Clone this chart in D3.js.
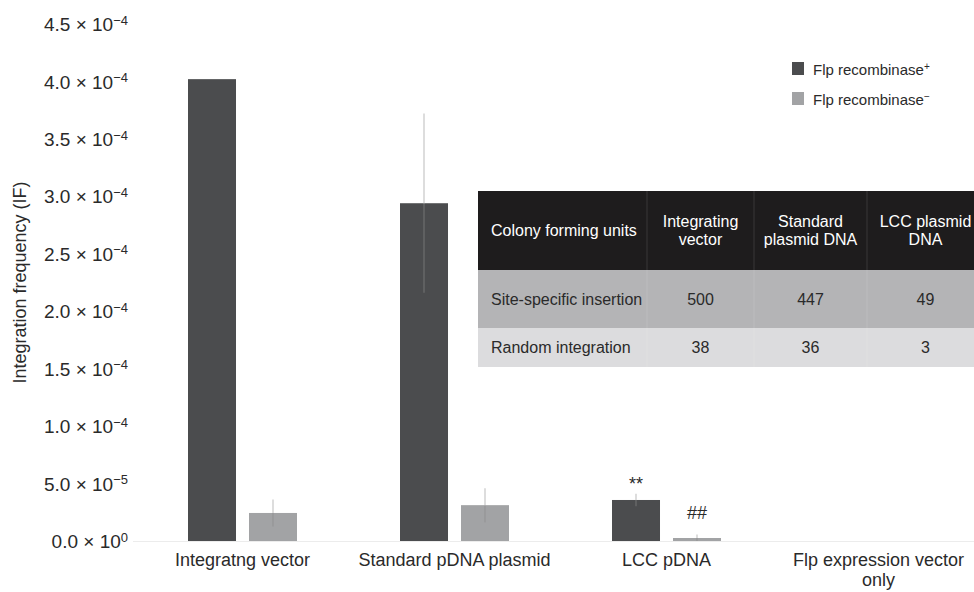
<!DOCTYPE html>
<html>
<head>
<meta charset="utf-8">
<title>Integration frequency</title>
<style>
body { margin: 0; background: #fff; }
svg { display: block; font-family: "Liberation Sans", Arial, Helvetica, sans-serif; }
</style>
<script src="https://cdn.jsdelivr.net/npm/d3@7"></script>
</head>
<body>
<div id="chart"></div>
<script>
// chart values
var categories = ["Integratng vector", "Standard pDNA plasmid", "LCC pDNA", "Flp expression vector only"];
var series = ["plus", "minus"];
var plusValues = [4.02e-4, 2.94e-4, 3.57e-5, 0];
var plusErrors = [0, 0.78e-4, 0.55e-5, 0];
var minusValues = [2.44e-5, 3.12e-5, 2.6e-6, 0];
var minusErrors = [1.18e-5, 1.48e-5, 3.0e-6, 0];
var marks = [{cat: "LCC pDNA", s: "plus", text: "**"}, {cat: "LCC pDNA", s: "minus", text: "##"}];

var tickValues = [0, 5e-5, 1e-4, 1.5e-4, 2e-4, 2.5e-4, 3e-4, 3.5e-4, 4e-4, 4.5e-4];
var tickMantissa = ["0.0", "5.0", "1.0", "1.5", "2.0", "2.5", "3.0", "3.5", "4.0", "4.5"];
var tickExponent = ["0", "\u22125", "\u22124", "\u22124", "\u22124", "\u22124", "\u22124", "\u22124", "\u22124", "\u22124"];

var tableHead = ["Colony forming units", "Integrating\nvector", "Standard\nplasmid DNA", "LCC plasmid\nDNA"];
var tableRows = [
	["Site-specific insertion", "500", "447", "49"],
	["Random integration", "38", "36", "3"]
];

var colors = {plus: "#4b4c4e", minus: "#a2a3a5"};

var width = 974, height = 592;
var svg = d3.select("#chart").append("svg").attr("width", width).attr("height", height);

var y = d3.scaleLinear().domain([0, 4.5e-4]).range([541, 24]);
var x = d3.scaleBand().domain(categories).range([136.5, 984.5]).padding(0);
var xs = d3.scaleBand().domain(series).range([0, 109]).paddingInner(0.213).paddingOuter(0);
var off = (x.bandwidth() - 109) / 2;

// baseline
svg.append("line")
	.attr("x1", 133).attr("x2", width)
	.attr("y1", y(0) + 0.5).attr("y2", y(0) + 0.5)
	.attr("stroke", "#ececec").attr("stroke-width", 1);

// y axis (labels only)
var yAxis = svg.append("g")
	.attr("transform", "translate(128,0)")
	.call(d3.axisLeft(y).tickValues(tickValues).tickSize(0).tickPadding(0).tickFormat(function () { return ""; }));
yAxis.select(".domain").remove();
yAxis.selectAll(".tick text").each(function (d, i) {
	var t = d3.select(this)
		.attr("text-anchor", "end")
		.attr("dy", "0.35em")
		.attr("fill", "#2a2a2a")
		.style("font-size", "19px");
	t.append("tspan").text(tickMantissa[i] + " \u00d7 10");
	t.append("tspan").attr("dy", "-0.5em").style("font-size", "13px").text(tickExponent[i]);
});

svg.append("text")
	.attr("transform", "translate(26," + ((y(0) + y(4.5e-4)) / 2) + ") rotate(-90)")
	.attr("text-anchor", "middle")
	.attr("fill", "#2a2a2a")
	.style("font-size", "18px")
	.text("Integration frequency (IF)");

// bars
var rows = categories.map(function (c, i) {
	return [
		{cat: c, s: "plus", v: plusValues[i], e: plusErrors[i]},
		{cat: c, s: "minus", v: minusValues[i], e: minusErrors[i]}
	];
});

var groups = svg.selectAll("g.group")
	.data(rows)
	.enter().append("g")
		.attr("class", "group")
		.attr("transform", function (d) { return "translate(" + (x(d[0].cat) + off) + ",0)"; });

groups.selectAll("rect")
	.data(function (d) { return d.filter(function (b) { return b.v > 0; }); })
	.enter().append("rect")
		.attr("x", function (d) { return xs(d.s); })
		.attr("width", xs.bandwidth())
		.attr("y", function (d) { return y(d.v); })
		.attr("height", function (d) { return y(0) - y(d.v); })
		.attr("fill", function (d) { return colors[d.s]; });

var errs = groups.selectAll("g.err")
	.data(function (d) { return d.filter(function (b) { return b.e > 0; }); })
	.enter().append("g").attr("class", "err");
errs.append("line")
	.attr("x1", function (d) { return xs(d.s) + xs.bandwidth() / 2; })
	.attr("x2", function (d) { return xs(d.s) + xs.bandwidth() / 2; })
	.attr("y1", function (d) { return y(d.v); })
	.attr("y2", function (d) { return y(d.v + d.e); })
	.attr("stroke", "#d2d2d2").attr("stroke-width", 1.5);
errs.append("line")
	.attr("x1", function (d) { return xs(d.s) + xs.bandwidth() / 2; })
	.attr("x2", function (d) { return xs(d.s) + xs.bandwidth() / 2; })
	.attr("y1", function (d) { return y(d.v); })
	.attr("y2", function (d) { return y(Math.max(0, d.v - d.e)); })
	.attr("stroke", "#8a8a8a").attr("stroke-opacity", 0.45).attr("stroke-width", 1.5);

// significance marks
svg.selectAll("text.mark")
	.data(marks)
	.enter().append("text")
		.attr("class", "mark")
		.attr("x", function (d) { return x(d.cat) + off + xs(d.s) + xs.bandwidth() / 2; })
		.attr("y", function (d) {
			var i = categories.indexOf(d.cat);
			var v = d.s == "plus" ? plusValues[i] + plusErrors[i] : minusValues[i] + minusErrors[i];
			return y(v) - (d.s == "plus" ? 4 : 16);
		})
		.attr("text-anchor", "middle")
		.attr("fill", "#2a2a2a")
		.style("font-size", "18px")
		.text(function (d) { return d.text; });

// category labels
var xl = svg.selectAll("text.cat")
	.data(categories)
	.enter().append("text")
		.attr("class", "cat")
		.attr("x", function (d) { return x(d) + x.bandwidth() / 2; })
		.attr("y", 566)
		.attr("text-anchor", "middle")
		.attr("fill", "#2a2a2a")
		.style("font-size", "18px");
xl.each(function (d) {
	var t = d3.select(this);
	if (d.indexOf("Flp") == 0) {
		t.append("tspan").attr("x", x(d) + x.bandwidth() / 2).text("Flp expression vector");
		t.append("tspan").attr("x", x(d) + x.bandwidth() / 2).attr("dy", 20).text("only");
	} else {
		t.text(d);
	}
});

// legend
var legend = svg.append("g").attr("transform", "translate(792,62)");
var lg = legend.selectAll("g")
	.data(series)
	.enter().append("g")
		.attr("transform", function (d, i) { return "translate(0," + (i * 30) + ")"; });
lg.append("rect").attr("width", 12).attr("height", 13).attr("fill", function (d) { return colors[d]; });
var lt = lg.append("text").attr("x", 21).attr("y", 13).attr("fill", "#2a2a2a").style("font-size", "15px");
lt.append("tspan").text("Flp recombinase");
lt.append("tspan").attr("dy", "-0.55em").style("font-size", "10px").text(function (d) { return d == "plus" ? "+" : "\u2212"; });

// inset table
var colEdges = [478, 647, 754, 867, 984];
var rowEdges = [191, 270, 328, 367];
var rowFill = ["#1e1c1d", "#b4b4b6", "#dcdcde"];
var table = svg.append("g");
var allRows = [tableHead].concat(tableRows);
allRows.forEach(function (r, ri) {
	table.append("rect")
		.attr("x", colEdges[0]).attr("y", rowEdges[ri])
		.attr("width", colEdges[4] - colEdges[0]).attr("height", rowEdges[ri + 1] - rowEdges[ri])
		.attr("fill", rowFill[ri]);
	r.forEach(function (cell, ci) {
		var lines = cell.split("\n");
		var cx = ci == 0 ? colEdges[0] + 13 : (colEdges[ci] + colEdges[ci + 1]) / 2;
		var cy = (rowEdges[ri] + rowEdges[ri + 1]) / 2;
		var t = table.append("text")
			.attr("text-anchor", ci == 0 ? "start" : "middle")
			.attr("fill", ri == 0 ? "#ffffff" : "#2a2a2a")
			.style("font-size", "16px");
		lines.forEach(function (ln, li) {
			t.append("tspan")
				.attr("x", cx)
				.attr("y", cy + (li - (lines.length - 1) / 2) * 18)
				.attr("dy", "0.35em")
				.text(ln);
		});
	});
});
colEdges.slice(1, 4).forEach(function (cx) {
	table.append("line")
		.attr("x1", cx).attr("x2", cx)
		.attr("y1", rowEdges[0]).attr("y2", rowEdges[3])
		.attr("stroke", "#ffffff").attr("stroke-opacity", 0.12);
});
</script>
</body>
</html>
